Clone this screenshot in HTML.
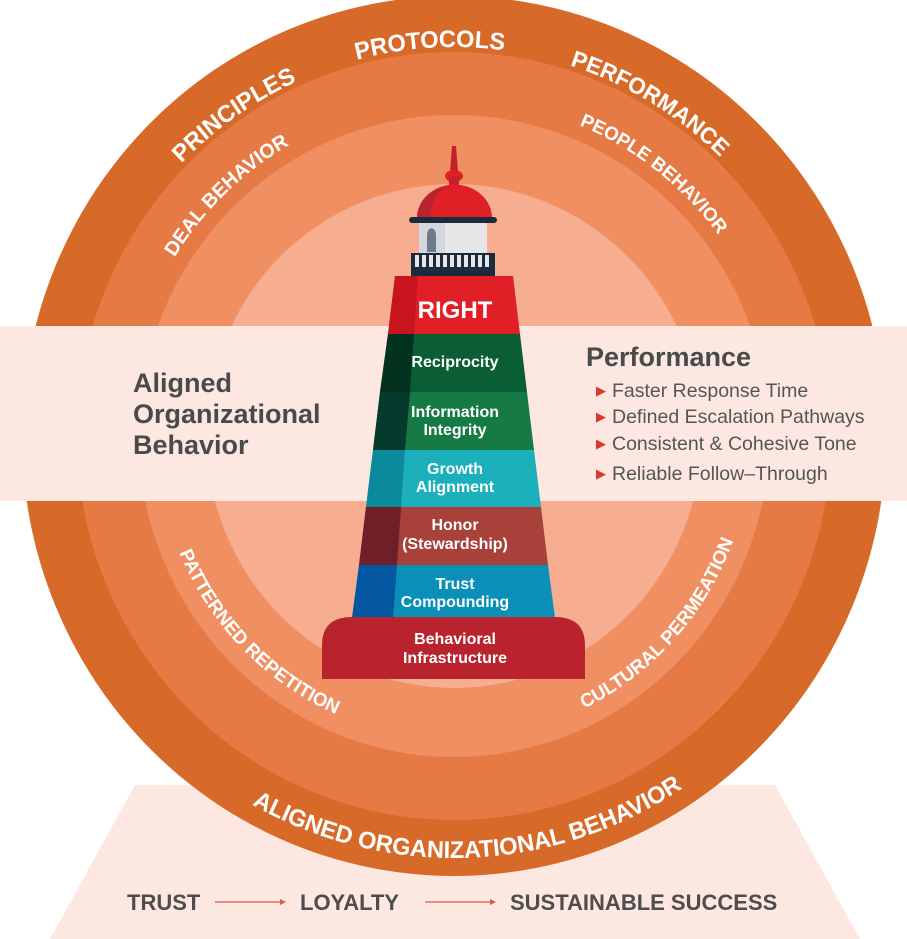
<!DOCTYPE html>
<html><head><meta charset="utf-8"><style>
html,body{margin:0;padding:0;background:#fff;}
svg{display:block;}
text{font-family:"Liberation Sans",sans-serif;}
</style></head><body>
<svg width="907" height="939" viewBox="0 0 907 939" xmlns="http://www.w3.org/2000/svg">
<defs>
<path id="cw389" d="M454,825 A389,389 0 1 1 454,47 A389,389 0 1 1 454,825"/>
<path id="cw336" d="M454,772 A336,336 0 1 1 454,100 A336,336 0 1 1 454,772"/>
<path id="ccw422" d="M454,14 A422,422 0 1 0 454,858 A422,422 0 1 0 454,14"/>
<path id="ccw303" d="M454,133 A303,303 0 1 0 454,739 A303,303 0 1 0 454,133"/>
</defs>
<rect width="907" height="939" fill="#fff"/>
<polygon points="135,785 775,785 860,939 50,939" fill="#fde8e1"/>
<g transform="translate(454,0) scale(0.982,1) translate(-454,0)">
<circle cx="454" cy="436" r="440" fill="#d86a29"/>
<circle cx="454" cy="436" r="384" fill="#e67a45"/>
<circle cx="454" cy="436" r="321" fill="#f08f62"/>
<circle cx="454" cy="436" r="252" fill="#f7ae90"/>
</g>
<rect x="0" y="326" width="907" height="175" fill="#fde8e1"/>

<g fill="#fff" font-weight="bold" transform="translate(454,0) scale(0.982,1) translate(-454,0)">
<text font-size="24"><textPath href="#cw389" startOffset="49%" text-anchor="middle">PROTOCOLS</textPath></text>
<text font-size="24"><textPath href="#cw389" startOffset="40.3%" text-anchor="middle">PRINCIPLES</textPath></text>
<text font-size="23"><textPath href="#cw389" startOffset="58.6%" text-anchor="middle">PERFORMANCE</textPath></text>
<text font-size="20"><textPath href="#cw336" startOffset="37.8%" text-anchor="middle">DEAL BEHAVIOR</textPath></text>
<text font-size="19"><textPath href="#cw336" startOffset="60.5%" text-anchor="middle">PEOPLE BEHAVIOR</textPath></text>
<text font-size="24"><textPath href="#ccw422" startOffset="50.6%" text-anchor="middle">ALIGNED ORGANIZATIONAL BEHAVIOR</textPath></text>
<text font-size="19"><textPath href="#ccw303" startOffset="37.4%" text-anchor="middle">PATTERNED REPETITION</textPath></text>
<text font-size="19"><textPath href="#ccw303" startOffset="63.3%" text-anchor="middle">CULTURAL PERMEATION</textPath></text>
</g>

<g fill="#4a4a4a" font-weight="bold" font-size="27">
<text x="133" y="392">Aligned</text>
<text x="133" y="423">Organizational</text>
<text x="133" y="454">Behavior</text>
</g>
<text x="586" y="366" fill="#4a4a4a" font-weight="bold" font-size="27">Performance</text>
<g fill="#d93a2b" font-size="13">
<text x="596" y="395">▶</text><text x="596" y="421">▶</text><text x="596" y="448">▶</text><text x="596" y="478">▶</text>
</g>
<g fill="#555" font-size="19.5">
<text x="612" y="397">Faster Response Time</text>
<text x="612" y="423">Defined Escalation Pathways</text>
<text x="612" y="450">Consistent &amp; Cohesive Tone</text>
<text x="612" y="480">Reliable Follow–Through</text>
</g>

<polygon points="452,146 456,146 458,172 450,172" fill="#c8202a"/>
<ellipse cx="454" cy="176" rx="9" ry="6" fill="#e01f26"/>
<rect x="449" y="176" width="10" height="10" fill="#c8202a"/>
<path d="M417,218 A37,33 0 0 1 492,218 Z" fill="#e01f26"/>
<path d="M417,218 A37,33 0 0 1 448,186 A28,33 0 0 0 430,218 Z" fill="#b8232e"/>
<rect x="419" y="222" width="68" height="32" fill="#e6e6e8"/>
<rect x="419" y="222" width="26" height="32" fill="#d3d7de"/>
<path d="M427,252 L427,235 A4,6 0 0 1 436,235 L436,252 Z" fill="#6d7a88"/>
<rect x="409" y="217" width="88" height="6" rx="3" fill="#1b2a3d"/>
<rect x="411" y="253" width="84" height="23" fill="#1b2a3d"/>
<g fill="#e6e6e8">
<rect x="415" y="255" width="4" height="12"/><rect x="422" y="255" width="4" height="12"/><rect x="429" y="255" width="4" height="12"/><rect x="436" y="255" width="4" height="12"/><rect x="443" y="255" width="4" height="12"/><rect x="450" y="255" width="4" height="12"/><rect x="457" y="255" width="4" height="12"/><rect x="464" y="255" width="4" height="12"/><rect x="471" y="255" width="4" height="12"/><rect x="478" y="255" width="4" height="12"/><rect x="485" y="255" width="4" height="12"/>
</g>

<polygon points="395,276 513,276 520,334 388,334" fill="#e01f26"/>
<polygon points="395,276 418,276 414,334 388,334" fill="#c8141c"/>
<polygon points="388,334 520,334 527,392 380,392" fill="#0b5e34"/>
<polygon points="388,334 414,334 410,392 380,392" fill="#03321f"/>
<polygon points="380,392 527,392 534,450 373,450" fill="#167a45"/>
<polygon points="380,392 410,392 405,450 373,450" fill="#053a2c"/>
<polygon points="373,450 534,450 541,507 366,507" fill="#1cb0bc"/>
<polygon points="373,450 405,450 401,507 366,507" fill="#0b8a9d"/>
<polygon points="366,507 541,507 548,565 359,565" fill="#a84139"/>
<polygon points="366,507 401,507 397,565 359,565" fill="#6e1f27"/>
<polygon points="359,565 548,565 555,618 352,618" fill="#0a8fb8"/>
<polygon points="359,565 397,565 393,618 352,618" fill="#0356a0"/>
<path d="M322,679 L322,645 Q322,617 352,617 L555,617 Q585,617 585,645 L585,679 Z" fill="#b8232e"/>

<g fill="#fff" font-weight="bold" text-anchor="middle" font-size="16">
<text x="455" y="318" font-size="24">RIGHT</text>
<text x="455" y="367">Reciprocity</text>
<text x="455" y="417">Information</text>
<text x="455" y="435">Integrity</text>
<text x="455" y="474">Growth</text>
<text x="455" y="492">Alignment</text>
<text x="455" y="530">Honor</text>
<text x="455" y="549">(Stewardship)</text>
<text x="455" y="589">Trust</text>
<text x="455" y="607">Compounding</text>
<text x="455" y="644">Behavioral</text>
<text x="455" y="663">Infrastructure</text>
</g>

<g fill="#4d4d4d" font-weight="bold" font-size="22">
<text x="127" y="910">TRUST</text>
<text x="300" y="910">LOYALTY</text>
<text x="510" y="910">SUSTAINABLE SUCCESS</text>
</g>
<g stroke="#e0584a" stroke-width="1.2" fill="#e0584a">
<line x1="215" y1="902" x2="283" y2="902"/><polygon points="286,902 280,899 280,905" stroke="none"/>
<line x1="425" y1="902" x2="493" y2="902"/><polygon points="496,902 490,899 490,905" stroke="none"/>
</g>
</svg>
</body></html>
